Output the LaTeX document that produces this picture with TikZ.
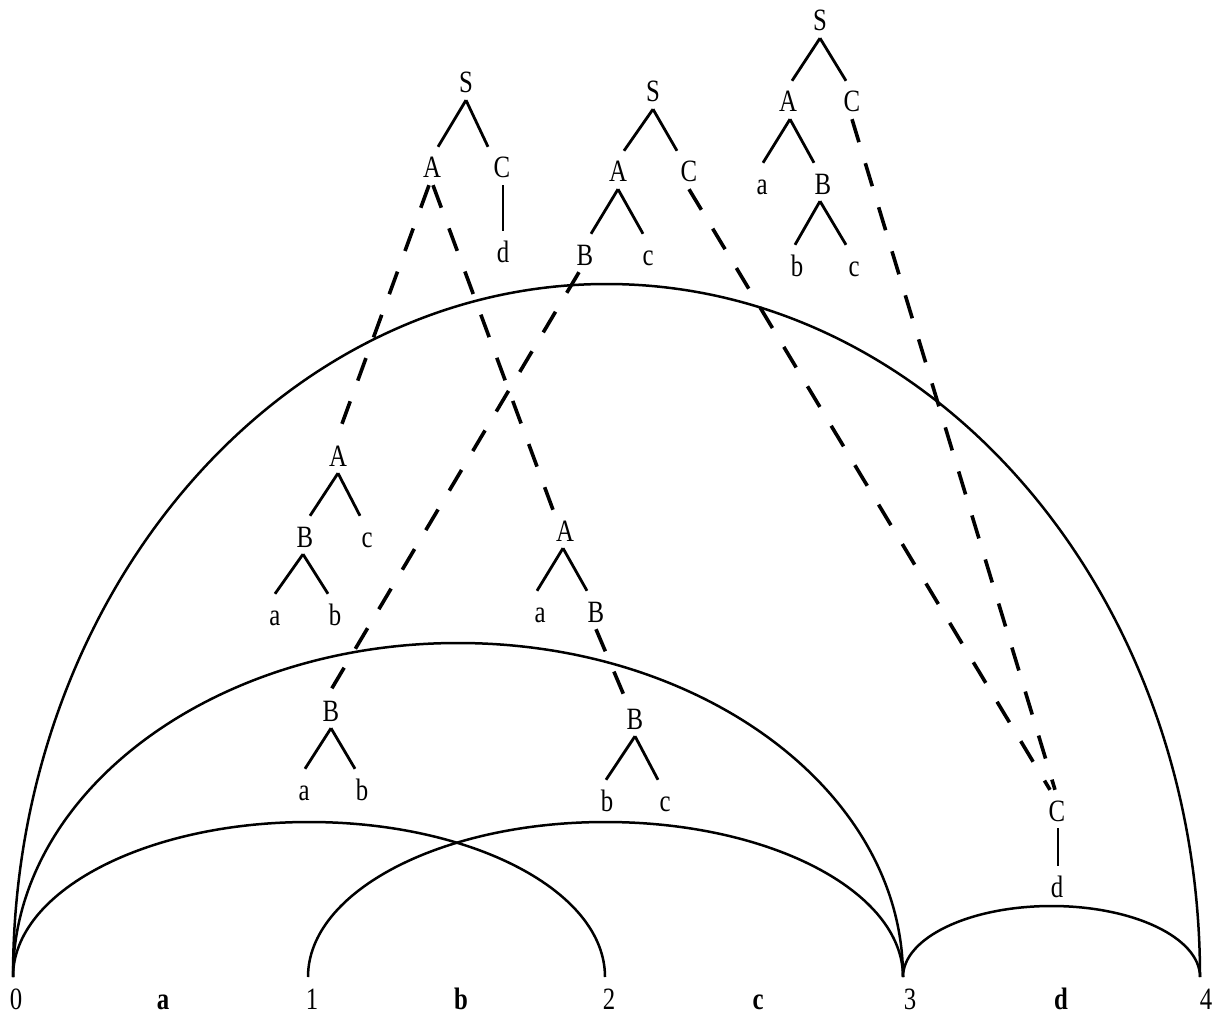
\documentclass[tikz,border=0pt]{standalone}
\usepackage{fontspec}
\setmainfont{Liberation Serif}[FakeStretch=0.8]
\begin{document}
\begin{tikzpicture}[x=1pt,y=-1pt,
  lbl/.style={anchor=base, inner xsep=1pt, inner ysep=7pt, text height=24pt, text depth=0pt, font=\fontsize{31}{31}\selectfont},
  numlbl/.style={anchor=base, inner sep=0pt, font=\fontsize{31}{31}\selectfont},
  tedge/.style={line width=2.8pt},
  arcline/.style={line width=2.5pt},
  dline/.style={line width=3.6pt, dash pattern=on 24pt off 22pt}]
\useasboundingbox (0,0) rectangle (1218,1014);
% arcs
\draw[arcline] (13,977) arc[start angle=180, end angle=0, x radius=296pt, y radius=155pt];
\draw[arcline] (308,977) arc[start angle=180, end angle=0, x radius=297.5pt, y radius=155pt];
\draw[arcline] (13,977) arc[start angle=180, end angle=0, x radius=445pt, y radius=334pt];
\draw[arcline] (13,977) arc[start angle=180, end angle=0, x radius=593.5pt, y radius=693pt];
\draw[arcline] (903,977) arc[start angle=180, end angle=0, x radius=148.5pt, y radius=71pt];
% base labels
\node[numlbl] (n0) at (16,1009) {0};
\node[numlbl] (la) at (163,1009) {\textbf{a}};
\node[numlbl] (n1) at (312,1009) {1};
\node[numlbl] (lb) at (461,1009) {\textbf{b}};
\node[numlbl] (n2) at (609,1009) {2};
\node[numlbl] (lc) at (758,1009) {\textbf{c}};
\node[numlbl] (n3) at (910,1009) {3};
\node[numlbl] (ld) at (1061,1009) {\textbf{d}};
\node[numlbl] (n4) at (1206,1009) {4};
% tree 1
\node[lbl] (S1) at (466,93) {S};
\node[lbl] (A1) at (432,178) {A};
\node[lbl] (C1) at (502,178) {C};
\node[lbl] (d1) at (503,262) {d};
\draw[tedge] (S1.south) -- ([xshift=6pt]A1.north);
\draw[tedge] (S1.south) -- ([xshift=-14pt]C1.north);
\draw[tedge] ([xshift=1pt]C1.south) -- (d1.north);
% tree 2
\node[lbl] (S2) at (653,102) {S};
\node[lbl] (A2) at (618,182) {A};
\node[lbl] (C2) at (689,182) {C};
\node[lbl] (B2) at (585,265) {B};
\node[lbl] (c2) at (648,265) {c};
\draw[tedge] (S2.south) -- ([xshift=6pt]A2.north);
\draw[tedge] (S2.south) -- ([xshift=-12pt]C2.north);
\draw[tedge] (A2.south) -- ([xshift=6pt]B2.north);
\draw[tedge] (A2.south) -- ([xshift=-5pt]c2.north);
% tree 3
\node[lbl] (S3) at (820,31) {S};
\node[lbl] (A3) at (788,112) {A};
\node[lbl] (C3) at (852,112) {C};
\node[lbl] (a3) at (762,194) {a};
\node[lbl] (B3) at (823,194) {B};
\node[lbl] (b3) at (797,276) {b};
\node[lbl] (c3) at (854,276) {c};
\draw[tedge] (S3.south) -- ([xshift=4pt]A3.north);
\draw[tedge] (S3.south) -- ([xshift=-6pt]C3.north);
\draw[tedge] ([xshift=2pt]A3.south) -- ([xshift=1pt]a3.north);
\draw[tedge] ([xshift=2pt]A3.south) -- ([xshift=-9pt]B3.north);
\draw[tedge] ([xshift=-3pt]B3.south) -- ([xshift=-2pt]b3.north);
\draw[tedge] ([xshift=-3pt]B3.south) -- ([xshift=-8pt]c3.north);
% tree 4
\node[lbl] (A4) at (338,466) {A};
\node[lbl] (B4) at (305,547) {B};
\node[lbl] (c4) at (367,547) {c};
\node[lbl] (a4) at (275,625) {a};
\node[lbl] (b4) at (335,625) {b};
\draw[tedge] (A4.south) -- ([xshift=5pt]B4.north);
\draw[tedge] (A4.south) -- ([xshift=-7pt]c4.north);
\draw[tedge] ([xshift=-2pt]B4.south) -- (a4.north);
\draw[tedge] ([xshift=-2pt]B4.south) -- ([xshift=-7pt]b4.north);
% tree 5
\node[lbl] (A5) at (565,541) {A};
\node[lbl] (a5) at (540,622) {a};
\node[lbl] (B5) at (596,622) {B};
\node[lbl] (B5b) at (635,729) {B};
\node[lbl] (b5) at (607,811) {b};
\node[lbl] (c5) at (665,811) {c};
\draw[tedge] ([xshift=-2pt]A5.south) -- ([xshift=-3pt]a5.north);
\draw[tedge] ([xshift=-2pt]A5.south) -- ([xshift=-9pt]B5.north);
\draw[tedge] (B5b.south) -- ([xshift=-1pt]b5.north);
\draw[tedge] (B5b.south) -- ([xshift=-7pt]c5.north);
% tree 6
\node[lbl] (B6) at (331,721) {B};
\node[lbl] (a6) at (304,800) {a};
\node[lbl] (b6) at (362,800) {b};
\draw[tedge] (B6.south) -- ([xshift=1pt]a6.north);
\draw[tedge] (B6.south) -- ([xshift=-7pt]b6.north);
% tree 7
\node[lbl] (C7) at (1057,821) {C};
\node[lbl] (d7) at (1057,897) {d};
\draw[tedge] ([xshift=1pt]C7.south) -- ([xshift=1pt]d7.north);
% dashed links
\draw[dline] ([xshift=-3pt]A1.south) -- (A4.north);
\draw[dline] ([xshift=1pt]A1.south) -- ([xshift=-12pt]A5.north);
\draw[dline] ([xshift=-6pt]B2.south) -- (B6.north);
\draw[dline] (C2.south) -- ([xshift=-7pt]C7.north);
\draw[dline] (C3.south) -- ([xshift=-2pt]C7.north);
\draw[dline] (B5.south) -- ([xshift=-10pt]B5b.north);
\end{tikzpicture}
\end{document}
